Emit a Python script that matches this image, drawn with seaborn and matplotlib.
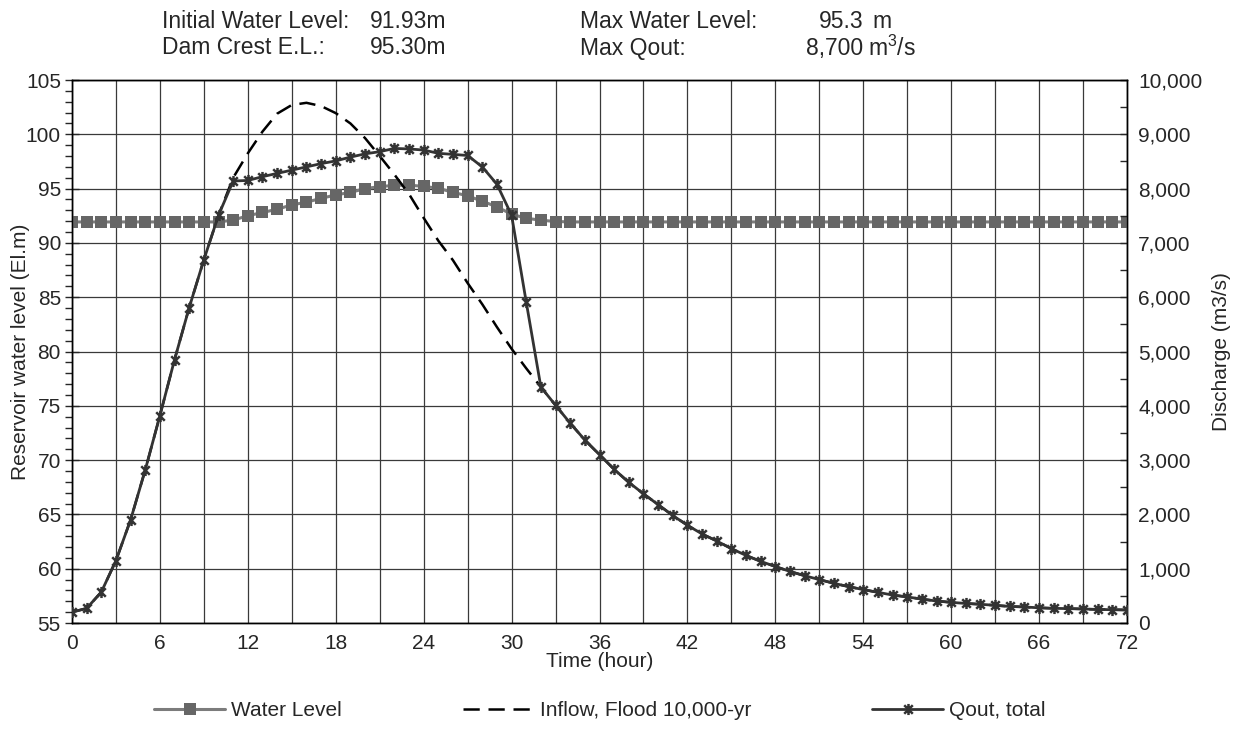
import pandas as pd
import seaborn as sns
import matplotlib.pyplot as plt
from matplotlib.path import Path
from matplotlib.ticker import MultipleLocator, FuncFormatter

hours = list(range(0, 73))

water_level = [91.93, 91.93, 91.93, 91.93, 91.93, 91.93, 91.93, 91.93, 91.93, 91.93,
               91.93, 92.10, 92.50, 92.80, 93.10, 93.50, 93.75, 94.10, 94.42, 94.65,
               95.00, 95.18, 95.30, 95.32, 95.20, 95.03, 94.66, 94.33, 93.84, 93.32,
               92.64, 92.27, 92.09, 91.97, 91.93, 91.93, 91.93, 91.93, 91.93, 91.93,
               91.93, 91.93, 91.93, 91.93, 91.93, 91.93, 91.93, 91.93, 91.93, 91.93,
               91.93, 91.93, 91.93, 91.93, 91.93, 91.93, 91.93, 91.93, 91.93, 91.93,
               91.93, 91.93, 91.93, 91.93, 91.93, 91.93, 91.93, 91.93, 91.93, 91.93,
               91.93, 91.93, 91.93]

qout = [200, 270, 570, 1150, 1900, 2820, 3820, 4850, 5810, 6690,
        7510, 8140, 8150, 8220, 8280, 8340, 8400, 8460, 8510, 8580,
        8640, 8680, 8740, 8730, 8710, 8650, 8630, 8610, 8400, 8080,
        7510, 5910, 4345, 4010, 3680, 3370, 3100, 2830, 2590, 2380,
        2180, 1980, 1800, 1640, 1510, 1370, 1245, 1135, 1040, 950,
        870, 800, 730, 670, 615, 565, 515, 480, 440, 405,
        380, 360, 345, 325, 305, 295, 280, 270, 265, 258,
        250, 245, 240]

inflow = [200, 270, 570, 1150, 1900, 2820, 3820, 4850, 5810, 6690,
          7510, 8200, 8650, 9050, 9380, 9540, 9580, 9520, 9390, 9200,
          8930, 8600, 8260, 7900, 7460, 7040, 6680, 6260, 5870, 5450,
          5050, 4690, 4345, 4010, 3680, 3370, 3100, 2830, 2590, 2380,
          2180, 1980, 1800, 1640, 1510, 1370, 1245, 1135, 1040, 950,
          870, 800, 730, 670, 615, 565, 515, 480, 440, 405,
          380, 360, 345, 325, 305, 295, 280, 270, 265, 258,
          250, 245, 240]

df = pd.DataFrame({'hour': hours, 'level': water_level, 'inflow': inflow, 'qout': qout})

sns.set_style('white')
plt.rcParams['font.family'] = ['Liberation Sans', 'DejaVu Sans']
plt.rcParams['mathtext.default'] = 'regular'
FS = 15
HFS = 16.5

# excel style "star" marker: an x with a vertical bar through it
star = Path([(-1, -1), (1, 1), (-1, 1), (1, -1), (0, -1.3), (0, 1.3)],
            [Path.MOVETO, Path.LINETO, Path.MOVETO, Path.LINETO, Path.MOVETO, Path.LINETO])

W, H = 1242, 733
fig = plt.figure(figsize=(W / 100, H / 100), dpi=100)
ax = fig.add_axes([72 / W, (H - 623) / H, (1127 - 72) / W, (623 - 80) / H])
ax2 = ax.twinx()

# water level on left axis
sns.lineplot(data=df, x='hour', y='level', ax=ax, color='#7c7c7c', lw=2.2,
             marker='s', markersize=8, markeredgewidth=0, markerfacecolor='#666666',
             label='Water Level', zorder=3)
# discharges on right axis
sns.lineplot(data=df, x='hour', y='inflow', ax=ax2, color='black', lw=1.8,
             dashes=(6.5, 3.5), label='Inflow, Flood 10,000-yr', zorder=3)
sns.lineplot(data=df, x='hour', y='qout', ax=ax2, color='#333333', lw=2.0,
             marker=star, markersize=8, markeredgewidth=1.8,
             markeredgecolor='#333333', label='Qout, total', zorder=4)

ax.set_xlim(0, 72)
ax.set_ylim(55, 105)
ax2.set_ylim(0, 10000)

ax.xaxis.set_major_locator(MultipleLocator(6))
ax.xaxis.set_minor_locator(MultipleLocator(3))
ax.yaxis.set_major_locator(MultipleLocator(5))
ax.yaxis.set_minor_locator(MultipleLocator(1))
ax2.yaxis.set_major_locator(MultipleLocator(1000))
ax2.yaxis.set_minor_locator(MultipleLocator(500))
ax2.yaxis.set_major_formatter(FuncFormatter(lambda v, p: f'{v:,.0f}'))

ax.grid(True, which='both', axis='x', color='#3a3a3a', lw=0.9)
ax.grid(True, which='major', axis='y', color='#3a3a3a', lw=0.9)
ax.set_axisbelow(True)

for a in (ax, ax2):
    for s in a.spines.values():
        s.set_color('black')
        s.set_linewidth(1.0)

ax.tick_params(axis='x', which='both', direction='out', length=6, width=1, labelsize=FS, pad=2)
ax.tick_params(axis='y', which='major', direction='inout', length=10, width=1, labelsize=FS, pad=3)
ax.tick_params(axis='y', which='minor', direction='out', length=5, width=1)
ax2.tick_params(axis='y', which='both', direction='in', length=5, width=1, labelsize=FS, pad=8)

ax.set_xlabel('Time (hour)', fontsize=FS, labelpad=-1)
ax.set_ylabel('Reservoir water level (El.m)', fontsize=FS, labelpad=-3)
ax2.set_ylabel('Discharge (m3/s)', fontsize=FS, labelpad=7)

h1, l1 = ax.get_legend_handles_labels()
h2, l2 = ax2.get_legend_handles_labels()
ax.get_legend().remove()
ax2.get_legend().remove()
fig.legend(h1 + h2, l1 + l2, loc='center', bbox_to_anchor=(600 / W, 22 / H), ncol=3,
           frameon=False, fontsize=FS, handlelength=3.4, handletextpad=0.3,
           columnspacing=5.8)

# header info
row1, row2 = 1 - 22 / H, 1 - 48 / H
fig.text(162 / W, row1, 'Initial Water Level:', fontsize=HFS, va='center')
fig.text(370 / W, row1, '91.93m', fontsize=HFS, va='center')
fig.text(162 / W, row2, 'Dam Crest E.L.:', fontsize=HFS, va='center')
fig.text(370 / W, row2, '95.30m', fontsize=HFS, va='center')
fig.text(580 / W, row1, 'Max Water Level:', fontsize=HFS, va='center')
fig.text(863 / W, row1, '95.3', fontsize=HFS, va='center', ha='right')
fig.text(872 / W, row1, 'm', fontsize=HFS, va='center')
fig.text(580 / W, row2, 'Max Qout:', fontsize=HFS, va='center')
fig.text(863 / W, row2, '8,700', fontsize=HFS, va='center', ha='right')
fig.text(868 / W, row2, 'm$^3$/s', fontsize=HFS, va='center')

fig.savefig('out.png', dpi=100)
